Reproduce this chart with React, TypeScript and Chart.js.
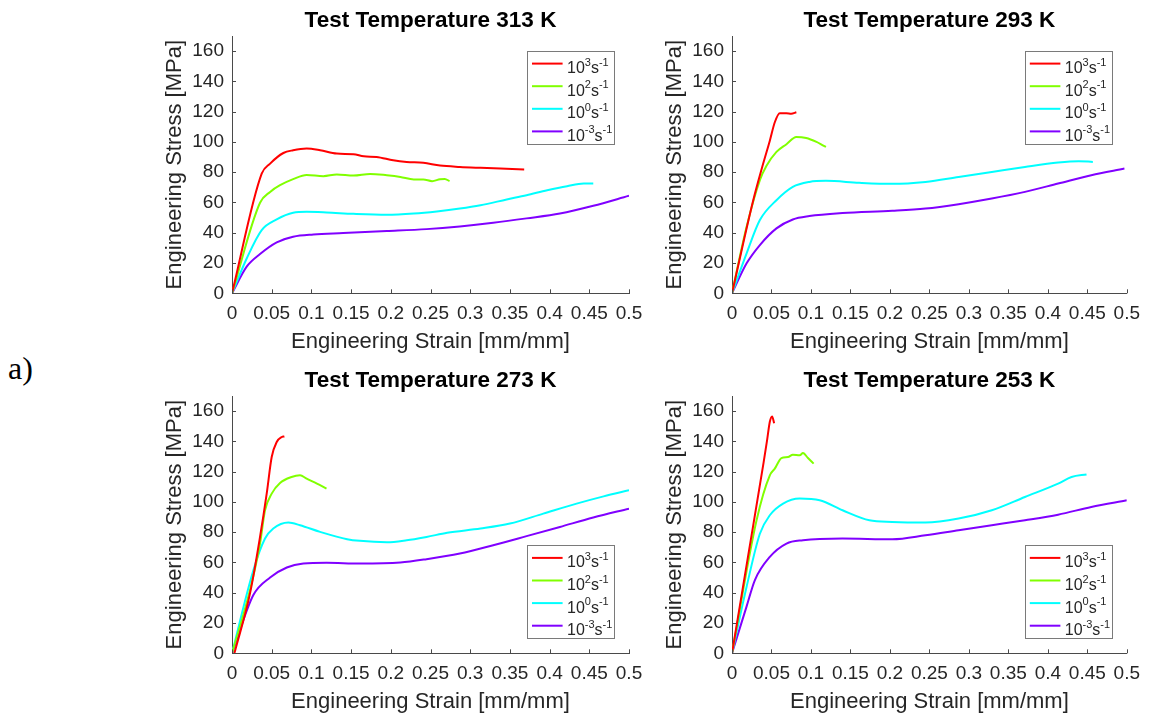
import React, { useEffect, useRef } from 'react';
import { Chart, registerables } from 'chart.js';

Chart.register(...registerables);

type Pt = [number, number];

// ---- shared labels / ticks ----
const rateBase = ['10', '10', '10', '10'];
const rateExp = ['3', '2', '0', '-3'];
const rateUnit = 's';
const rateUnitExp = '-1';
const seriesColors = ['#ff0000', '#80ff00', '#00ffff', '#8000ff'];
const xTicks = [0, 0.05, 0.1, 0.15, 0.2, 0.25, 0.3, 0.35, 0.4, 0.45, 0.5];
const xTickLabels = ['0', '0.05', '0.1', '0.15', '0.2', '0.25', '0.3', '0.35', '0.4', '0.45', '0.5'];
const yTicks = [0, 20, 40, 60, 80, 100, 120, 140, 160];
const yTickLabels = ['0', '20', '40', '60', '80', '100', '120', '140', '160'];
const xAxisTitle = 'Engineering Strain [mm/mm]';
const yAxisTitle = 'Engineering Stress [MPa]';

// ---- 313 K ----
const t313_r3: Pt[] = [[0, 0], [0.0374, 79], [0.048, 85.7], [0.0647, 92.7], [0.077, 94.5], [0.094, 95.6], [0.111, 94.5], [0.132, 92.3], [0.153, 91.9], [0.166, 90.5], [0.182, 90.1], [0.203, 87.9], [0.22, 86.8], [0.241, 86.2], [0.262, 84.4], [0.287, 83.5], [0.313, 82.9], [0.338, 82.4], [0.368, 81.8]];
const t313_r2: Pt[] = [[0, 0], [0.0353, 59.8], [0.048, 67], [0.0605, 71.4], [0.077, 75.4], [0.094, 78.2], [0.115, 77.4], [0.132, 78.5], [0.153, 77.8], [0.174, 78.9], [0.195, 78], [0.212, 76.9], [0.229, 75.2], [0.241, 75.2], [0.252, 74.1], [0.262, 75.4], [0.268, 75.6], [0.274, 74.1]];
const t313_r0: Pt[] = [[0, 0], [0.0185, 23], [0.0374, 41.8], [0.0563, 48.8], [0.077, 53.2], [0.094, 53.8], [0.119, 53.4], [0.153, 52.5], [0.195, 51.9], [0.229, 52.7], [0.258, 54.1], [0.287, 56], [0.313, 58.2], [0.346, 62], [0.371, 64.8], [0.397, 68.1], [0.422, 70.8], [0.443, 72.5], [0.455, 72.5]];
const t313_rm3: Pt[] = [[0, 0], [0.0185, 17.6], [0.0353, 25.9], [0.0563, 33.6], [0.077, 37.4], [0.1025, 38.9], [0.14, 39.8], [0.195, 41.1], [0.245, 42.4], [0.287, 44.2], [0.329, 46.6], [0.371, 49.5], [0.413, 52.7], [0.455, 57.8], [0.5, 64.4]];

// ---- 293 K ----
const t293_r3: Pt[] = [[0, 0], [0.0269, 61.5], [0.0395, 85.7], [0.048, 101], [0.0542, 113], [0.0605, 119], [0.069, 119], [0.075, 118.7], [0.0815, 119.6]];
const t293_r2: Pt[] = [[0, 0], [0.0185, 44], [0.0353, 74.7], [0.0437, 84.2], [0.0563, 93.4], [0.069, 98.5], [0.0815, 103.3], [0.094, 102.6], [0.107, 100], [0.115, 97.8], [0.119, 96.7]];
const t293_r0: Pt[] = [[0, 0], [0.0185, 26.4], [0.0353, 48.4], [0.0563, 61.5], [0.077, 70.3], [0.098, 73.6], [0.119, 74.3], [0.161, 73], [0.203, 72.3], [0.245, 73.6], [0.287, 76.9], [0.329, 80.2], [0.371, 83.5], [0.413, 86.4], [0.439, 87.3], [0.457, 86.8]];
const t293_rm3: Pt[] = [[0, 0], [0.0185, 19.8], [0.0353, 31.9], [0.0563, 42.9], [0.077, 48.8], [0.098, 51], [0.14, 53], [0.203, 54.5], [0.245, 56], [0.287, 58.9], [0.329, 62.6], [0.371, 67], [0.413, 72.5], [0.455, 78], [0.497, 82.4]];

// ---- 273 K ----
const t273_r3: Pt[] = [[0.003, 0], [0.0227, 39.6], [0.0353, 76.9], [0.0437, 105.5], [0.05, 129.7], [0.0563, 139.6], [0.0626, 142.9], [0.066, 143.3]];
const t273_r2: Pt[] = [[0, 0], [0.0227, 41.8], [0.0353, 72.5], [0.0416, 94.5], [0.05, 105.5], [0.0605, 112.5], [0.075, 116.5], [0.0857, 117.6], [0.094, 115.4], [0.107, 112.1], [0.119, 108.8]];
const t273_r0: Pt[] = [[0, 0], [0.0269, 54.9], [0.0416, 75.8], [0.052, 82.4], [0.071, 86.4], [0.0857, 84.6], [0.111, 80.2], [0.145, 75.4], [0.161, 74.3], [0.195, 73.4], [0.22, 74.7], [0.245, 76.9], [0.271, 79.6], [0.313, 82.4], [0.35, 85.7], [0.392, 92.3], [0.434, 98.9], [0.468, 103.7], [0.5, 107.7]];
const t273_rm3: Pt[] = [[0, 0], [0.0269, 38.5], [0.048, 50.1], [0.069, 56.7], [0.0899, 59.3], [0.119, 59.8], [0.161, 59.3], [0.212, 60], [0.245, 62.2], [0.287, 65.9], [0.329, 71.4], [0.371, 77.4], [0.413, 83.5], [0.455, 89.7], [0.5, 95.6]];

// ---- 253 K ----
const t253_r3: Pt[] = [[0, 0], [0.02, 63], [0.04, 126], [0.0445, 141], [0.0479, 153], [0.0508, 156.5], [0.0534, 152]];
const t253_r2: Pt[] = [[0, 0], [0.0311, 87.9], [0.0479, 117.6], [0.0542, 122], [0.0626, 129], [0.071, 129.7], [0.077, 131.2], [0.0857, 130.8], [0.0899, 132.3], [0.0962, 129], [0.1034, 125.3]];
const t253_r0: Pt[] = [[0, 0], [0.0185, 44], [0.0353, 79], [0.0479, 91.2], [0.0647, 98.9], [0.0857, 102.2], [0.111, 101.1], [0.14, 94.5], [0.174, 87.9], [0.203, 86.8], [0.245, 86.4], [0.287, 89], [0.329, 94.5], [0.371, 103.3], [0.413, 112.1], [0.43, 116.5], [0.449, 118.2]];
const t253_rm3: Pt[] = [[0, 0], [0.0185, 31], [0.029, 48.4], [0.0479, 63.7], [0.069, 72.5], [0.0899, 74.7], [0.14, 75.8], [0.203, 75.4], [0.245, 78], [0.287, 81.3], [0.329, 84.6], [0.371, 87.9], [0.413, 91.6], [0.455, 96.7], [0.5, 101.1]];

const panelTitles = ['Test Temperature 313 K', 'Test Temperature 293 K', 'Test Temperature 273 K', 'Test Temperature 253 K'];

const FONT = '"Liberation Sans", Arial, Helvetica, sans-serif';
const TXT = '#262626';
const AXIS = '#4a4a4a';

type PanelProps = {
  title: string;
  series: Pt[][];
  legendPos: 'top' | 'bottom';
  left: number;
  top: number;
  width: number;
  height: number;
  rightPad: number;
};

function Panel({ title, series, legendPos, left, top, width, height, rightPad }: PanelProps) {
  const ref = useRef<HTMLCanvasElement | null>(null);

  useEffect(() => {
    if (!ref.current) return;
    const decor = {
      id: 'decor',
      afterDraw(chart: any) {
        const ctx = chart.ctx as CanvasRenderingContext2D;
        const ca = chart.chartArea;
        const xs = chart.scales.x;
        const ys = chart.scales.y;
        ctx.save();
        // inward tick marks
        ctx.strokeStyle = AXIS;
        ctx.lineWidth = 1;
        ctx.beginPath();
        xTicks.forEach((v) => {
          const px = Math.round(xs.getPixelForValue(v)) + 0.5;
          ctx.moveTo(px, ca.bottom);
          ctx.lineTo(px, ca.bottom - 4);
        });
        yTicks.forEach((v) => {
          const py = Math.round(ys.getPixelForValue(v)) + 0.5;
          ctx.moveTo(ca.left, py);
          ctx.lineTo(ca.left + 4, py);
        });
        ctx.stroke();

        // title
        ctx.fillStyle = '#000';
        ctx.font = `bold 22.5px ${FONT}`;
        ctx.textAlign = 'center';
        ctx.textBaseline = 'alphabetic';
        ctx.fillText(title, (ca.left + ca.right) / 2, 26.7);

        // legend
        const lw = 87;
        const lh = 93;
        const lx = ca.right - 15 - lw;
        const ly = legendPos === 'top' ? ca.top + 15 : ca.bottom - 15 - lh;
        ctx.fillStyle = '#fff';
        ctx.fillRect(lx, ly, lw, lh);
        ctx.strokeStyle = '#7a7a7a';
        ctx.lineWidth = 1;
        ctx.strokeRect(Math.round(lx) + 0.5, Math.round(ly) + 0.5, lw, lh);
        chart.data.datasets.forEach((ds: any, i: number) => {
          const ry = ly + 12.6 + i * 22.6;
          ctx.strokeStyle = ds.borderColor;
          ctx.lineWidth = 2;
          ctx.beginPath();
          ctx.moveTo(lx + 5, ry);
          ctx.lineTo(lx + 35.6, ry);
          ctx.stroke();
          ctx.fillStyle = TXT;
          ctx.textAlign = 'left';
          ctx.textBaseline = 'alphabetic';
          let tx = lx + 40;
          const base = ry + 9.5;
          const sup = ry + 2;
          ctx.font = `16px ${FONT}`;
          ctx.fillText(rateBase[i], tx, base);
          tx += ctx.measureText(rateBase[i]).width;
          ctx.font = `11px ${FONT}`;
          ctx.fillText(rateExp[i], tx, sup);
          tx += ctx.measureText(rateExp[i]).width;
          ctx.font = `16px ${FONT}`;
          ctx.fillText(rateUnit, tx, base);
          tx += ctx.measureText(rateUnit).width;
          ctx.font = `11px ${FONT}`;
          ctx.fillText(rateUnitExp, tx, sup);
        });
        ctx.restore();
      },
    };

    const chart = new Chart(ref.current, {
      type: 'line',
      data: {
        datasets: series.map((s, i) => ({
          label: `${rateBase[i]}^${rateExp[i]} ${rateUnit}^${rateUnitExp}`,
          data: s.map(([x, y]) => ({ x, y })),
          borderColor: seriesColors[i],
          backgroundColor: seriesColors[i],
          borderWidth: 2,
          pointRadius: 0,
          fill: false,
          cubicInterpolationMode: 'monotone' as const,
        })),
      },
      options: {
        responsive: false,
        animation: false,
        devicePixelRatio: 1,
        events: [],
        layout: { padding: { top: 36, right: rightPad, left: 0, bottom: 0 } },
        plugins: {
          legend: { display: false },
          tooltip: { enabled: false },
          title: { display: false },
        },
        scales: {
          x: {
            type: 'linear',
            min: 0,
            max: 0.5,
            afterBuildTicks: (s: any) => {
              s.ticks = xTicks.map((v) => ({ value: v }));
            },
            afterFit: (s: any) => {
              s.height = 66.7;
            },
            grid: { display: false, drawTicks: false },
            border: { display: true, color: AXIS, width: 1 },
            ticks: {
              autoSkip: false,
              maxRotation: 0,
              minRotation: 0,
              padding: 9,
              color: TXT,
              font: { family: FONT, size: 19 },
              callback: (_v: any, i: number) => xTickLabels[i],
            },
            title: {
              display: true,
              text: xAxisTitle,
              color: TXT,
              font: { family: FONT, size: 22 },
              padding: { top: 0, bottom: 5 },
            },
          },
          y: {
            type: 'linear',
            min: 0,
            max: 170,
            afterBuildTicks: (s: any) => {
              s.ticks = yTicks.map((v) => ({ value: v }));
            },
            afterFit: (s: any) => {
              s.width = 72;
            },
            grid: { display: false, drawTicks: false },
            border: { display: true, color: AXIS, width: 1 },
            ticks: {
              autoSkip: false,
              padding: 8,
              color: TXT,
              font: { family: FONT, size: 19 },
              callback: (_v: any, i: number) => yTickLabels[i],
            },
            title: {
              display: true,
              text: yAxisTitle,
              color: TXT,
              font: { family: FONT, size: 22 },
              padding: { top: 2, bottom: 0 },
            },
          },
        },
      },
      plugins: [decor],
    });
    return () => chart.destroy();
  }, []);

  return (
    <canvas
      ref={ref}
      width={width}
      height={height}
      style={{ position: 'absolute', left, top, width, height }}
    />
  );
}

export default function App() {
  return (
    <div style={{ position: 'absolute', left: 0, top: 0, width: 1149, height: 720, background: '#fff', overflow: 'hidden' }}>
      <div
        style={{
          position: 'absolute',
          left: 8,
          top: 352,
          fontFamily: '"Liberation Serif", "Times New Roman", Times, serif',
          fontSize: 32,
          lineHeight: '32px',
          color: '#000',
        }}
      >
        a)
      </div>
      <Panel title={panelTitles[0]} series={[t313_r3, t313_r2, t313_r0, t313_rm3]} legendPos="top" left={160} top={0} width={500} height={360} rightPad={31} />
      <Panel title={panelTitles[1]} series={[t293_r3, t293_r2, t293_r0, t293_rm3]} legendPos="top" left={660} top={0} width={489} height={360} rightPad={20.3} />
      <Panel title={panelTitles[2]} series={[t273_r3, t273_r2, t273_r0, t273_rm3]} legendPos="bottom" left={160} top={360} width={500} height={360} rightPad={31} />
      <Panel title={panelTitles[3]} series={[t253_r3, t253_r2, t253_r0, t253_rm3]} legendPos="bottom" left={660} top={360} width={489} height={360} rightPad={20.3} />
    </div>
  );
}
